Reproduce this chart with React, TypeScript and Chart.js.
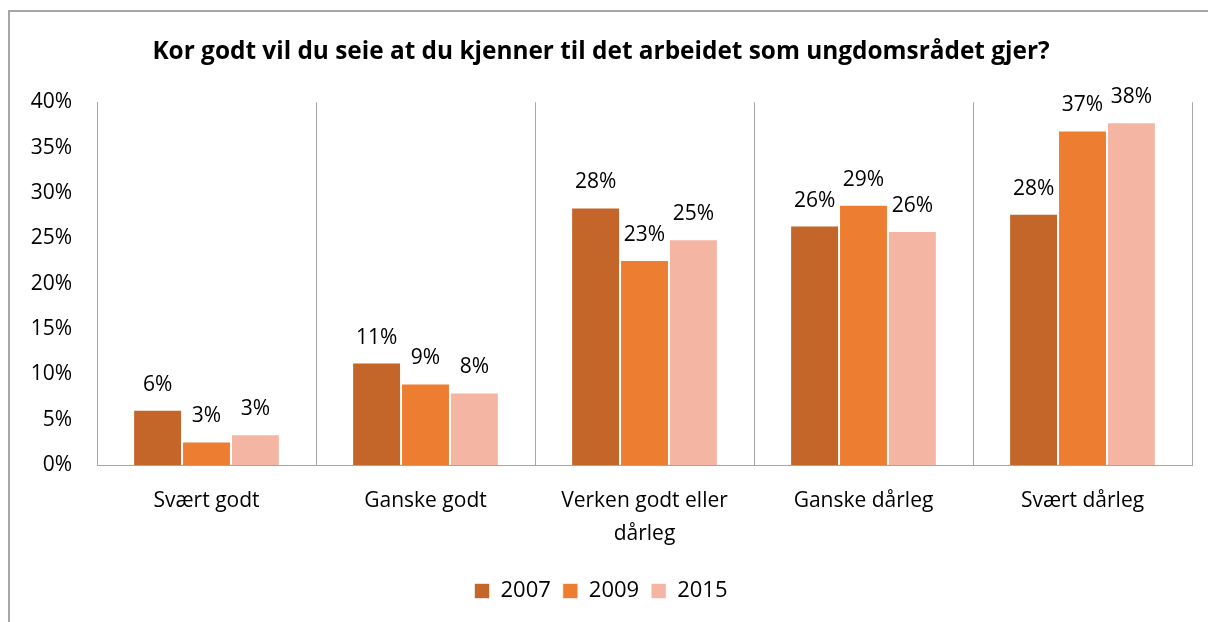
import React, { useEffect, useRef } from "react";
import { Chart, registerables } from "chart.js";

Chart.register(...registerables);

const categories: (string | string[])[] = [
  "Svært godt",
  "Ganske godt",
  ["Verken godt eller", "dårleg"],
  "Ganske dårleg",
  "Svært dårleg",
];
const seriesNames = ["2007", "2009", "2015"];
const values2007 = [6.1, 11.3, 28.4, 26.4, 27.7];
const values2009 = [2.6, 9.0, 22.6, 28.7, 36.9];
const values2015 = [3.4, 8.0, 24.9, 25.8, 37.8];
const yTicks = [0, 5, 10, 15, 20, 25, 30, 35, 40];
const titleText = "Kor godt vil du seie at du kjenner til det arbeidet som ungdomsrådet gjer?";
const colors = ["#C4652A", "#ED7D31", "#F4B6A2"];

const FONT = "'Open Sans', sans-serif";

const dataLabelPlugin = {
  id: "dataLabels",
  afterDatasetsDraw(chart: any) {
    const ctx = chart.ctx;
    ctx.save();
    ctx.font = `21px ${FONT}`;
    ctx.fillStyle = "#000";
    ctx.textAlign = "center";
    ctx.textBaseline = "alphabetic";
    chart.data.datasets.forEach((ds: any, di: number) => {
      const meta = chart.getDatasetMeta(di);
      meta.data.forEach((bar: any, i: number) => {
        const v = ds.data[i];
        ctx.fillText(Math.round(v) + "%", bar.x, bar.y - 19);
      });
    });
    ctx.restore();
  },
};

export default function App() {
  const ref = useRef<HTMLCanvasElement | null>(null);
  useEffect(() => {
    document.body.style.overflow = "hidden";
    if (!ref.current) return;
    const chart = new Chart(ref.current, {
      type: "bar",
      data: {
        labels: categories,
        datasets: [values2007, values2009, values2015].map((d, i) => ({
          label: seriesNames[i],
          data: d,
          backgroundColor: colors[i],
          borderColor: "rgba(255,255,255,0.6)",
          borderWidth: 1,
          categoryPercentage: 0.67,
          barPercentage: 1,
        })),
      },
      options: {
        animation: false,
        responsive: false,
        maintainAspectRatio: false,
        layout: { padding: { left: 0, right: 16, top: 0, bottom: 10 } },
        plugins: {
          title: {
            display: true,
            text: titleText,
            color: "#000",
            font: { family: FONT, size: 24.4, weight: "bold" },
            padding: { top: 25, bottom: 36 },
          },
          legend: {
            position: "bottom",
            labels: {
              color: "#000",
              font: { family: FONT, size: 22 },
              boxWidth: 15,
              boxHeight: 15,
              padding: 12,
            },
          },
          tooltip: { enabled: false },
        },
        scales: {
          x: {
            grid: { display: true, color: "#A6A6A6", drawTicks: false, offset: true },
            border: { display: true, color: "#A6A6A6" },
            ticks: {
              color: "#000",
              font: { family: FONT, size: 21, lineHeight: 1.57 },
              padding: 20,
              maxRotation: 0,
            },
            afterFit: (s: any) => {
              s.height = 103;
            },
          },
          y: {
            min: 0,
            max: 40,
            grid: { display: false, drawTicks: false },
            border: { display: true, color: "#A6A6A6" },
            afterBuildTicks: (s: any) => {
              s.ticks = yTicks.map((v) => ({ value: v }));
            },
            ticks: {
              color: "#000",
              font: { family: FONT, size: 21 },
              padding: 25,
              callback: (v: any) => v + "%",
            },
            afterFit: (s: any) => {
              s.width = 87;
            },
          },
        },
      },
      plugins: [dataLabelPlugin],
    });
    return () => chart.destroy();
  }, []);
  return (
    <div
      style={{
        position: "absolute",
        left: 8,
        top: 10,
        width: 1198,
        height: 610,
        borderLeft: "2px solid #A6A6A6",
        borderTop: "2px solid #A6A6A6",
        background: "#fff",
        overflow: "hidden",
      }}
    >
      <canvas ref={ref} width={1198} height={610} style={{ display: "block" }} />
    </div>
  );
}
